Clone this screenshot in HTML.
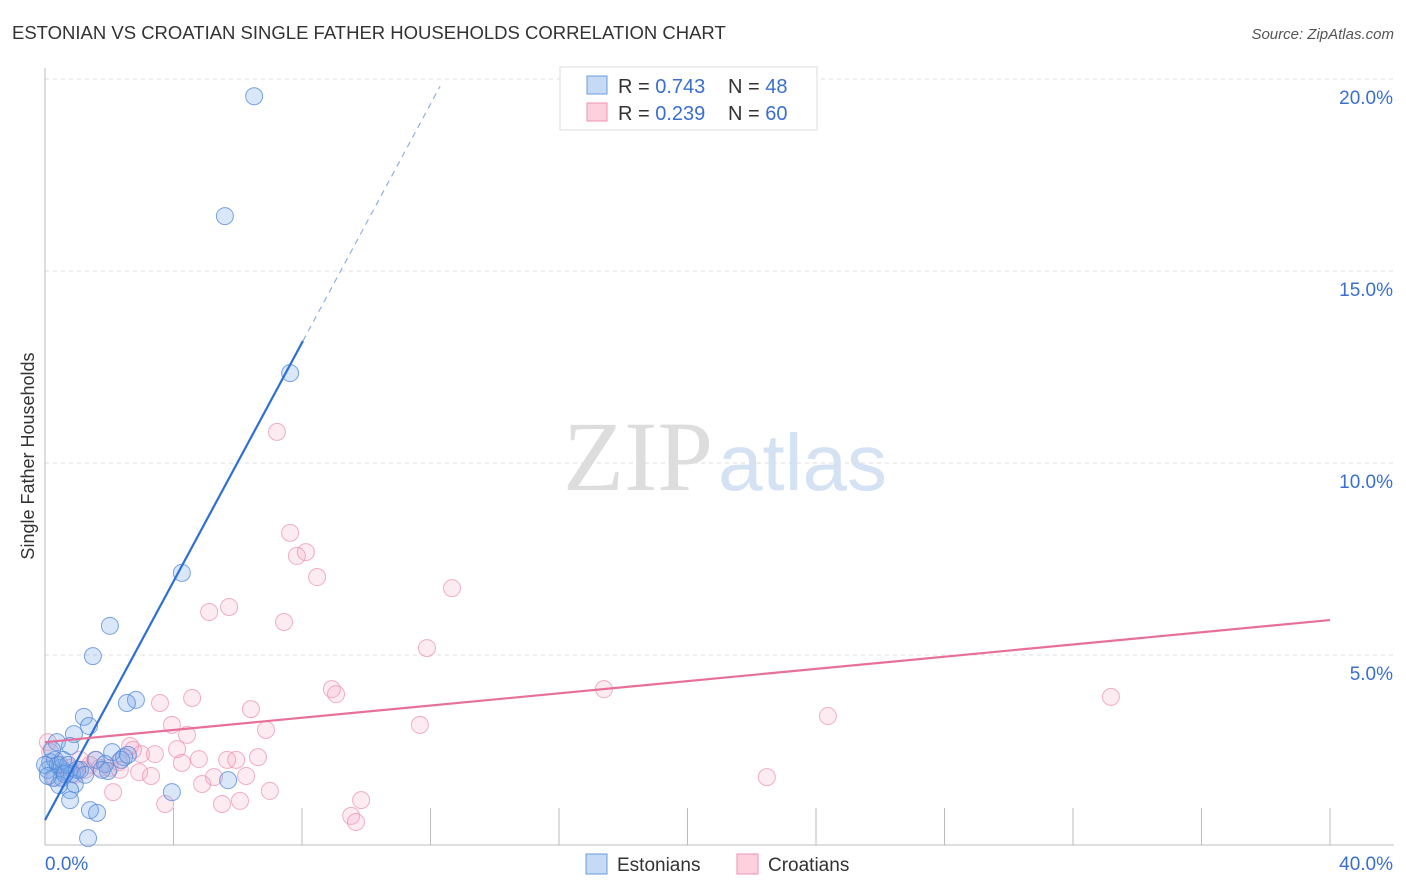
<!DOCTYPE html>
<html><head><meta charset="utf-8"><style>
body{margin:0;background:#fff;font-family:"Liberation Sans",sans-serif}
</style></head><body>
<svg id="c" width="1406" height="892" style="display:block">
<text x="12" y="39" font-size="18.5" fill="#333">ESTONIAN VS CROATIAN SINGLE FATHER HOUSEHOLDS CORRELATION CHART</text>
<text x="1394" y="39" font-size="15" fill="#555" font-style="italic" text-anchor="end">Source: ZipAtlas.com</text>
<text x="713" y="490" font-size="100" fill="#ddd" font-family="Liberation Serif,serif" text-anchor="end">ZIP</text>
<text x="718" y="490" font-size="80" fill="#d4e2f4">atlas</text>
<g id="grid"></g><g id="pts"></g><g id="lines"></g>
<text x="34" y="456" font-size="18" fill="#333" transform="rotate(-90 34 456)" text-anchor="middle">Single Father Households</text>
<g>
<rect x="560" y="67" width="257" height="63" fill="#fff" stroke="#ddd"/>
<rect x="587" y="76" width="20" height="18" fill="#c5daf5" stroke="#6b9ddd"/>
<rect x="587" y="103" width="20" height="18" fill="#fcd0dd" stroke="#eb93b0"/>
<text x="618" y="93" font-size="20" fill="#333">R = <tspan fill="#3a6fd0">0.743</tspan><tspan x="728">N = </tspan><tspan fill="#3a6fd0">48</tspan></text>
<text x="618" y="120" font-size="20" fill="#333">R = <tspan fill="#3a6fd0">0.239</tspan><tspan x="728">N = </tspan><tspan fill="#3a6fd0">60</tspan></text>
</g>
<g>
<rect x="586" y="854" width="21" height="20" fill="#c5daf5" stroke="#6b9ddd"/>
<text x="617" y="871" font-size="19" fill="#333">Estonians</text>
<rect x="737" y="854" width="21" height="20" fill="#fcd0dd" stroke="#eb93b0"/>
<text x="768" y="871" font-size="19" fill="#333">Croatians</text>
</g>
</svg>
<script>
const blueX=[6.51,5.60,7.63,4.26,2.02,1.49,2.83,2.55,1.21,1.37,0.90,0.37,0.78,2.09,2.46,1.59,1.87,0.16,0.47,0.65,1.09,0.09,0.25,0.53,0.84,1.96,2.37,5.70,0.93,0.78,0.78,3.95,1.40,1.62,1.34,0.31,0.40,0,0.56,0.72,1.00,1.25,1.77,2.58,0.22,0.44,0.62,0.09];
const blueY=[19.55,16.43,12.34,7.14,5.76,4.97,3.83,3.75,3.39,3.15,2.94,2.73,2.63,2.47,2.34,2.27,2.16,2.21,2.06,1.95,2.01,2.01,1.80,1.80,1.90,1.98,2.27,1.74,1.64,1.48,1.22,1.43,0.96,0.89,0.23,2.27,2.14,2.14,2.27,2.14,2.01,1.88,2.01,2.40,2.53,1.61,1.90,1.85];
const pinkX=[7.22,7.63,8.12,7.84,8.47,12.67,5.73,5.11,7.44,11.89,17.40,8.93,9.06,33.18,4.58,3.58,6.41,24.37,11.67,3.95,6.88,4.42,2.65,4.11,3.42,2.99,2.74,6.63,4.79,5.67,5.95,4.26,1.56,2.30,1.71,2.93,3.30,2.02,6.26,5.26,22.47,4.89,2.12,7.00,6.07,5.51,3.74,9.84,9.53,9.68,0.09,0.16,0.47,0.78,1.25,1.40,0.93,2.33,0.31,1.09];
const pinkY=[10.81,8.18,7.68,7.58,7.03,6.74,6.25,6.12,5.86,5.18,4.11,4.11,3.98,3.91,3.88,3.75,3.59,3.41,3.18,3.18,3.05,2.92,2.63,2.55,2.42,2.42,2.53,2.34,2.29,2.27,2.27,2.19,2.27,2.21,2.06,1.95,1.85,2.06,1.85,1.82,1.82,1.64,1.43,1.46,1.20,1.12,1.12,1.22,0.81,0.65,2.73,2.47,2.14,2.06,2.01,2.14,1.88,2.01,1.80,2.27];
const yTicks=[5,10,15,20];
const yTickLabels=["5.0%","10.0%","15.0%","20.0%"];
const blueFit=[0.70,1.554];
const pinkFit=[2.73,0.0795];
const sx=v=>45+v*32.125, sy=v=>847-v*38.4;
const NS="http://www.w3.org/2000/svg";
function mk(t,a,p){const e=document.createElementNS(NS,t);for(const k in a)e.setAttribute(k,a[k]);p.appendChild(e);return e;}
const g=document.getElementById('grid');
yTicks.forEach((v,i)=>{
 const l=mk('line',{x1:45,x2:1394,y1:sy(v),y2:sy(v),stroke:'#ddd','stroke-dasharray':'4,4'},g);
 
 
 const t=mk('text',{x:1393,y:sy(v)+25,'font-size':19,fill:'#3a6fd0','text-anchor':'end'},g);
 t.textContent=yTickLabels[i];
 
 
});
mk('line',{x1:45,x2:45,y1:68,y2:845,stroke:'#bbb'},g);
mk('line',{x1:45,x2:1394,y1:845,y2:845,stroke:'#bbb'},g);
for(let i=1;i<=10;i++){const x=sx(i*4);const l=mk('line',{x1:x,x2:x,y1:808,y2:845,stroke:'#bbb'},g);}
let t=mk('text',{x:45,y:870,'font-size':19,fill:'#3a6fd0'},g);t.textContent='0.0%';
t=mk('text',{x:1393,y:870,'font-size':19,fill:'#3a6fd0','text-anchor':'end'},g);t.textContent='40.0%';
const p=document.getElementById('pts');
pinkX.forEach((x,i)=>{const c=mk('circle',{cx:sx(x),cy:sy(pinkY[i]),r:8.5,fill:'rgba(245,165,195,0.22)',stroke:'rgba(233,143,174,0.7)','stroke-width':1},p);

});
blueX.forEach((x,i)=>{const c=mk('circle',{cx:sx(x),cy:sy(blueY[i]),r:8.5,fill:'rgba(120,170,235,0.28)',stroke:'rgba(80,135,215,0.75)','stroke-width':1},p);

});
const L=document.getElementById('lines');
let e=mk('line',{x1:sx(0),y1:sy(blueFit[0]),x2:sx(8.03),y2:sy(blueFit[0]+blueFit[1]*8.03),stroke:'#2d6fd6','stroke-width':2.2},L);


e=mk('line',{x1:sx(8.03),y1:sy(blueFit[0]+blueFit[1]*8.03),x2:sx(12.3),y2:sy(blueFit[0]+blueFit[1]*12.3),stroke:'#8fb0e0','stroke-width':1.2,'stroke-dasharray':'6,5'},L);


e=mk('line',{x1:sx(0),y1:sy(pinkFit[0]),x2:sx(40),y2:sy(pinkFit[0]+pinkFit[1]*40),stroke:'#e6709a','stroke-width':2.2},L);


</script>
</body></html>
